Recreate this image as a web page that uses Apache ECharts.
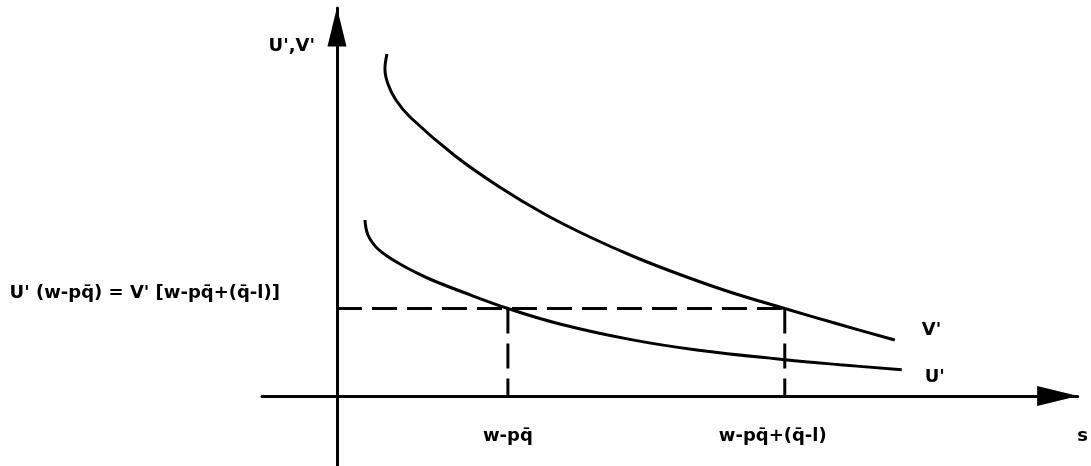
<!DOCTYPE html>
<html>
<head>
<meta charset="utf-8">
<script src="https://cdn.jsdelivr.net/npm/echarts@6.0.0/dist/echarts.min.js"></script>
<style>
  html, body { margin: 0; padding: 0; background: #ffffff; }
  #chart { width: 1091px; height: 466px; }
</style>
</head>
<body>
<div id="chart"></div>
<script>
// Marginal utility curves, [s, value]
const vCurve = [
  [5.0, 34.2], [4.8, 32.7], [5.1, 31.2], [5.9, 29.6], [7.3, 27.9], [11.8, 24.03],
  [16.3, 20.88], [20.8, 18.18], [25.3, 15.9], [29.8, 13.9], [34.3, 12.15], [39.3, 10.4],
  [44.8, 8.75], [50.3, 7.15], [55.8, 5.6]
];
const uCurve = [
  [2.8, 17.6], [2.9, 16.8], [3.1, 16.1], [3.5, 15.4], [4.1, 14.7], [5.0, 14.0],
  [6.3, 13.2], [7.8, 12.4], [9.5, 11.6], [12.3, 10.5], [17.1, 8.75], [22.3, 7.2],
  [29.3, 5.66], [36.0, 4.6], [44.8, 3.63], [50.3, 3.13], [56.5, 2.63]
];

// Equilibrium marginal utility and the two savings levels that reach it
const eqLevel = 8.75;
const sLow = 17.1;
const sHigh = 44.8;

const curveNames = ["V'", "U'"];
const tickLabels = ["w-pq\u0304", "w-pq\u0304+(q\u0304-l)"];
const levelLabel = "U' (w-pq\u0304) = V' [w-pq\u0304+(q\u0304-l)]";
const xAxisName = "s";
const yAxisName = "U',V'";

const ink = '#000000';
const font = 'DejaVu Sans';
const textStyle = { color: ink, fontFamily: font, fontSize: 18, fontWeight: 'bold' };

const chart = echarts.init(document.getElementById('chart'), null, { renderer: 'canvas' });

const dashed = { color: ink, width: 3, type: [25, 10] };

chart.setOption({
  animation: false,
  backgroundColor: '#ffffff',
  grid: { left: 262, right: 13, top: 8, bottom: 0, containLabel: false },
  xAxis: {
    type: 'value',
    min: -7.5,
    max: 74.1,
    name: xAxisName,
    nameLocation: 'end',
    nameGap: 5,
    nameTextStyle: Object.assign({}, textStyle, { align: 'center', verticalAlign: 'top', padding: [31, 0, 0, 0] }),
    axisLine: {
      onZero: true,
      lineStyle: { color: ink, width: 3 },
      symbol: ['none', 'triangle'],
      symbolSize: [20, 41],
      symbolOffset: [0, -20]
    },
    axisTick: { show: false },
    axisLabel: { show: false },
    splitLine: { show: false }
  },
  yAxis: {
    type: 'value',
    min: -7.0,
    max: 38.8,
    name: yAxisName,
    nameLocation: 'end',
    nameGap: -38,
    nameTextStyle: Object.assign({}, textStyle, { align: 'right', verticalAlign: 'middle', padding: [0, 22, 0, 0] }),
    axisLine: {
      onZero: true,
      lineStyle: { color: ink, width: 3 },
      symbol: ['none', 'triangle'],
      symbolSize: [19, 39],
      symbolOffset: [0, -19]
    },
    axisTick: { show: false },
    axisLabel: { show: false },
    splitLine: { show: false }
  },
  series: [
    {
      name: curveNames[0],
      type: 'line',
      data: vCurve,
      smooth: 0.4,
      showSymbol: false,
      clip: false,
      lineStyle: { color: ink, width: 3 },
      endLabel: Object.assign({ show: true, formatter: curveNames[0], distance: 0, offset: [27, -10] }, textStyle)
    },
    {
      name: curveNames[1],
      type: 'line',
      data: uCurve,
      smooth: 0.4,
      showSymbol: false,
      clip: false,
      lineStyle: { color: ink, width: 3 },
      endLabel: Object.assign({ show: true, formatter: curveNames[1], distance: 0, offset: [23, 8] }, textStyle)
    },
    {
      type: 'line',
      data: [[0, eqLevel], [sHigh, eqLevel]],
      showSymbol: false,
      lineStyle: dashed
    },
    {
      type: 'line',
      data: [[sLow, eqLevel], [sLow, 0]],
      showSymbol: false,
      lineStyle: dashed
    },
    {
      type: 'line',
      data: [[sHigh, eqLevel], [sHigh, 0]],
      showSymbol: false,
      lineStyle: dashed
    },
    {
      // savings levels written beneath the s axis
      type: 'scatter',
      symbolSize: 0,
      itemStyle: { opacity: 1 },
      data: [[sLow, 0], [sHigh, 0]],
      label: Object.assign({
        show: true,
        position: 'bottom',
        distance: 31,
        formatter: p => tickLabels[p.dataIndex]
      }, textStyle),
      labelLayout: p => (p.dataIndex === 1 ? { dx: -12 } : {})
    },
    {
      // equilibrium level written beside the vertical axis
      type: 'scatter',
      symbolSize: 0,
      itemStyle: { opacity: 1 },
      data: [[0, eqLevel]],
      label: Object.assign({
        show: true,
        position: 'left',
        distance: 57,
        offset: [0, -15],
        formatter: levelLabel
      }, textStyle)
    }
  ]
});
</script>
</body>
</html>
